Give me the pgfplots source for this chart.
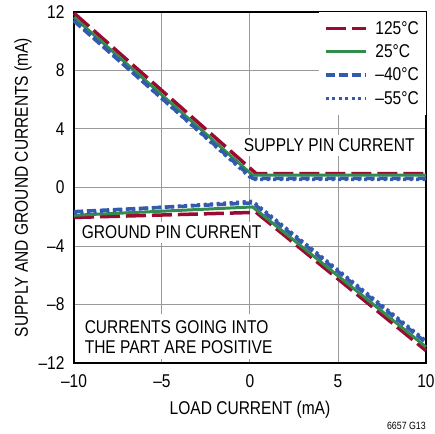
\documentclass[border=0pt]{standalone}
\usepackage{pgfplots}
\pgfplotsset{compat=1.18}
\usepackage{fontspec}
\setmainfont{Liberation Sans}[FakeStretch=0.84]

\definecolor{ltred}{RGB}{155,10,50}
\definecolor{ltgreen}{RGB}{50,140,75}
\definecolor{ltblue}{RGB}{50,90,175}

\newcommand{\lbl}{\fontsize{18.5bp}{21bp}\selectfont}

\begin{document}
\begin{tikzpicture}
\useasboundingbox (-74bp,-71bp) rectangle (361bp,363bp);
\begin{axis}[
    at={(0,0)}, anchor=south west,
    scale only axis,
    width=352bp, height=351bp,
    xmin=-10, xmax=10, ymin=-12, ymax=12,
    xtick={-10,-5,0,5,10},
    xticklabels={–10,–5,0,5,10},
    ytick={-12,-8,-4,0,4,8,12},
    yticklabels={–12,–8,–4,0,4,8,12},
    major tick length=0pt,
    grid=major,
    major grid style={draw=black!40, line width=1bp},
    axis line style={line width=1.8bp},
    ticklabel style={font=\lbl},
    xticklabel style={yshift=-8bp},
    yticklabel style={xshift=-6bp},
    xlabel={LOAD CURRENT (mA)},
    ylabel={SUPPLY AND GROUND CURRENTS (mA)},
    xlabel style={font=\lbl, yshift=-7bp},
    ylabel style={font=\lbl},
    legend style={at={(1,1)}, anchor=north east, draw=none, fill=white,
        font=\lbl, row sep=5bp, inner xsep=5bp, inner ysep=7bp},
    legend cell align=left,
    legend image code/.code={\draw[#1] (0bp,0bp) -- (40bp,0bp); \path (46bp,0bp);},
    clip=false,
]
% supply pin current
\addplot[ltred, line width=3.5bp, dash pattern=on 20bp off 6bp] coordinates {(-10,11.92) (0.35,0.95) (10,0.95)};
\addlegendentry{125°C}
\addplot[ltgreen, line width=3bp] coordinates {(-10,11.64) (0.15,0.84) (10,0.84)};
\addlegendentry{25°C}
\addplot[ltblue, line width=3.5bp, dash pattern=on 9bp off 4bp] coordinates {(-10,11.38) (0.15,0.63) (10,0.63)};
\addlegendentry{–40°C}
\addplot[ltblue, line width=3.5bp, dash pattern=on 3bp off 3.5bp] coordinates {(-10,11.45) (0.15,0.55) (10,0.55)};
\addlegendentry{–55°C}
% ground pin current
\addplot[forget plot, ltred, line width=3.5bp, dash pattern=on 20bp off 6bp] coordinates {(-10,-2.05) (0.35,-1.7) (10,-11.15)};
\addplot[forget plot, ltgreen, line width=3bp] coordinates {(-10,-1.9) (0.15,-1.33) (10,-10.9)};
\addplot[forget plot, ltblue, line width=3.5bp, dash pattern=on 9bp off 4bp] coordinates {(-10,-1.65) (0.15,-1.05) (10,-10.6)};
\addplot[forget plot, ltblue, line width=3.5bp, dash pattern=on 3bp off 3.5bp] coordinates {(-10,-1.75) (0.15,-0.95) (10,-10.5)};

\node[font=\lbl, anchor=center, fill=white, inner xsep=3bp, inner ysep=4bp] at (axis cs:4.5,2.9) {SUPPLY PIN CURRENT};
\node[font=\lbl, anchor=center, fill=white, inner xsep=3bp, inner ysep=4bp] at (axis cs:-4.45,-3.07) {GROUND PIN CURRENT};
\node[font=\lbl, anchor=west, align=left, fill=white, inner xsep=3bp, inner ysep=6bp] at (axis cs:-9.57,-10.2) {CURRENTS GOING INTO\\[-1bp]THE PART ARE POSITIVE};
\node[font=\fontsize{10.5bp}{12bp}\selectfont, anchor=east, inner sep=0pt] at (axis cs:10,-12) [yshift=-63bp] {6657 G13};
\end{axis}
\end{tikzpicture}
\end{document}
